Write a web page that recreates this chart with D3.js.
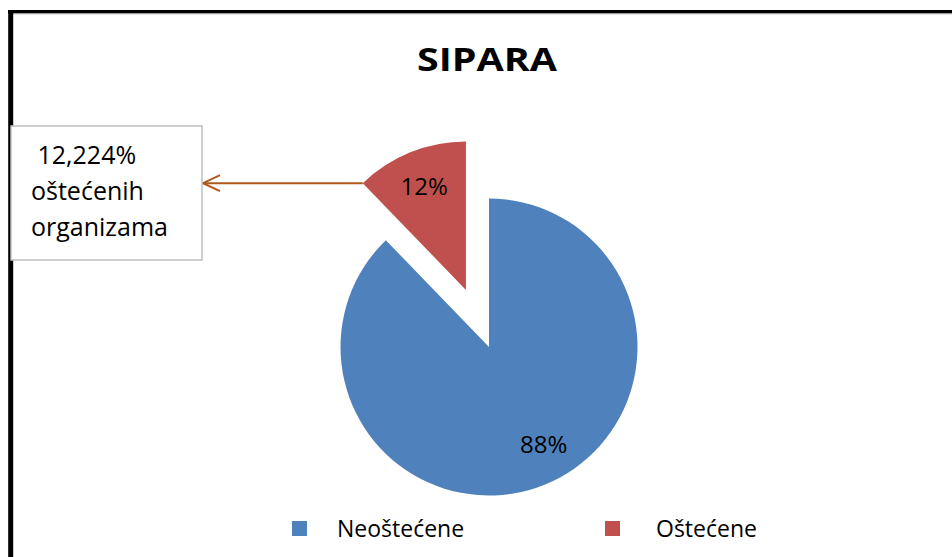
<!DOCTYPE html>
<html>
<head>
<meta charset="utf-8">
<script src="https://cdn.jsdelivr.net/npm/d3@7"></script>
<style>
  body { margin: 0; background: #fff; }
  text { font-family: "Open Sans", sans-serif; }
</style>
</head>
<body>
<svg></svg>
<script>
var categories = ["Neoštećene", "Oštećene"];
var values = [87.776, 12.224];
var labels = ["88%", "12%"];
var colors = ["#4f81bd", "#c0504d"];
var title = "SIPARA";
var noteLines = [" 12,224%", "oštećenih", "organizama"];

var width = 952;
var height = 557;

var cx = 489;
var cy = 347;
var radius = 148.5;
var explode = 61.5;
// excel nudges the big label a bit towards the bottom
var labelShift = [-0.13, 0];

var svg = d3.select('svg')
	.attr("width", width)
	.attr("height", height);

// frame (cut off on right and bottom like the screenshot)
svg.append('line')
	.attr('x1', 8).attr('x2', width)
	.attr('y1', 11.7).attr('y2', 11.7)
	.style('stroke', '#000').style('stroke-width', 3.5);
svg.append('line')
	.attr('x1', 13).attr('x2', width)
	.attr('y1', 13.8).attr('y2', 13.8)
	.style('stroke', '#aaa').style('stroke-width', 1);
svg.append('line')
	.attr('x1', 10.7).attr('x2', 10.7)
	.attr('y1', 10).attr('y2', height)
	.style('stroke', '#000').style('stroke-width', 5);

svg.append('text')
	.attr('x', 487)
	.attr('y', 71)
	.attr('text-anchor', 'middle')
	.attr('textLength', 140)
	.attr('lengthAdjust', 'spacingAndGlyphs')
	.style('font-size', '32px')
	.style('font-weight', 'bold')
	.text(title);

var pie = d3.pie().sort(null).value(function (d) { return d; });
var arcs = pie(values);

var arc = d3.arc().innerRadius(0).outerRadius(radius);

function offset(d, i) {
	// only the small slice is pulled out
	if (i !== 1) return [0, 0];
	var mid = (d.startAngle + d.endAngle) / 2;
	return [explode * Math.sin(mid), -explode * Math.cos(mid)];
}

var slices = svg.selectAll('g.slice')
	.data(arcs)
	.enter()
	.append('g')
	.attr('class', 'slice')
	.attr('transform', function (d, i) {
		var o = offset(d, i);
		return 'translate(' + (cx + o[0]) + ',' + (cy + o[1]) + ')';
	});

slices.append('path')
	.attr('d', arc)
	.style('fill', function (d, i) { return colors[i]; });

slices.append('text')
	.attr('transform', function (d, i) {
		var a = (d.startAngle + d.endAngle) / 2 + labelShift[i];
		var r = radius * 0.75;
		return 'translate(' + (r * Math.sin(a)) + ',' + (-r * Math.cos(a)) + ')';
	})
	.attr('text-anchor', 'middle')
	.attr('dy', '0.36em')
	.style('font-size', '24px')
	.text(function (d, i) { return labels[i]; });

// callout box with arrow
var tip = (function () {
	var d = arcs[1];
	var o = offset(d, 1);
	var a = d.startAngle;
	return [cx + o[0] + radius * Math.sin(a), cy + o[1] - radius * Math.cos(a)];
})();

var arrowColor = "#b0581a";
svg.append('line')
	.attr('x1', tip[0]).attr('y1', tip[1])
	.attr('x2', 203).attr('y2', tip[1])
	.style('stroke', arrowColor).style('stroke-width', 2);
svg.append('path')
	.attr('d', 'M' + 220 + ',' + (tip[1] - 8) + 'L' + 203 + ',' + tip[1] + 'L' + 220 + ',' + (tip[1] + 8))
	.style('fill', 'none')
	.style('stroke', arrowColor).style('stroke-width', 2);

svg.append('rect')
	.attr('x', 11).attr('y', 126)
	.attr('width', 191).attr('height', 134)
	.style('fill', '#fff')
	.style('stroke', '#bfbfbf').style('stroke-width', 1.5);

svg.append('text')
	.attr('x', 31)
	.attr('y', 164)
	.style('font-size', '25px')
	.style('white-space', 'pre')
	.selectAll('tspan')
	.data(noteLines)
	.enter()
	.append('tspan')
	.attr('x', 31)
	.attr('dy', function (d, i) { return i === 0 ? 0 : 36; })
	.text(function (d) { return d; });

// legend
var legendX = [292, 605];
var legendTextX = [45, 51];
var legend = svg.selectAll('g.legend')
	.data(categories)
	.enter()
	.append('g')
	.attr('class', 'legend')
	.attr('transform', function (d, i) { return 'translate(' + legendX[i] + ',521)'; });

legend.append('rect')
	.attr('width', 15).attr('height', 15)
	.style('fill', function (d, i) { return colors[i]; });

legend.append('text')
	.attr('x', function (d, i) { return legendTextX[i]; })
	.attr('y', 16)
	.style('font-size', '23px')
	.text(function (d) { return d; });
</script>
</body>
</html>
